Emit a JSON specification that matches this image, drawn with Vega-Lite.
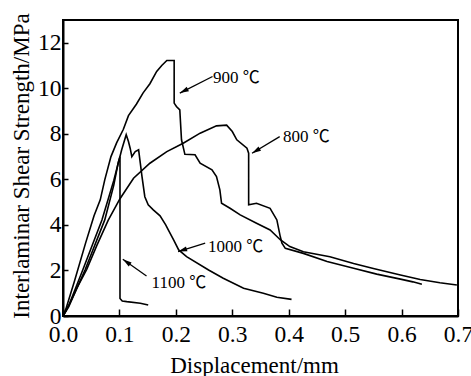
{
  "$schema": "https://vega.github.io/schema/vega-lite/v6.json",
  "width": 395,
  "height": 296,
  "autosize": {"type": "none"},
  "padding": {"left": 63, "top": 20, "right": 13, "bottom": 60},
  "background": "white",
  "config": {
    "view": {"stroke": "black", "strokeWidth": 2},
    "font": "Liberation Serif"
  },
  "datasets": {
    "curves": [
      {"series": "900", "i": 1, "x": 0, "y": 0},
      {"series": "900", "i": 2, "x": 0.005, "y": 0.3},
      {"series": "900", "i": 3, "x": 0.02, "y": 1.5},
      {"series": "900", "i": 4, "x": 0.04, "y": 3.2},
      {"series": "900", "i": 5, "x": 0.055, "y": 4.4},
      {"series": "900", "i": 6, "x": 0.066, "y": 5.1},
      {"series": "900", "i": 7, "x": 0.074, "y": 5.98},
      {"series": "900", "i": 8, "x": 0.085, "y": 7.0},
      {"series": "900", "i": 9, "x": 0.095, "y": 7.6},
      {"series": "900", "i": 10, "x": 0.107, "y": 8.2},
      {"series": "900", "i": 11, "x": 0.116, "y": 8.8},
      {"series": "900", "i": 12, "x": 0.13, "y": 9.3},
      {"series": "900", "i": 13, "x": 0.142, "y": 9.8},
      {"series": "900", "i": 14, "x": 0.154, "y": 10.2},
      {"series": "900", "i": 15, "x": 0.166, "y": 10.74},
      {"series": "900", "i": 16, "x": 0.175, "y": 11.0},
      {"series": "900", "i": 17, "x": 0.184, "y": 11.22},
      {"series": "900", "i": 18, "x": 0.197, "y": 11.22},
      {"series": "900", "i": 19, "x": 0.197, "y": 9.35},
      {"series": "900", "i": 20, "x": 0.201, "y": 9.2},
      {"series": "900", "i": 21, "x": 0.207, "y": 9.05},
      {"series": "900", "i": 22, "x": 0.21, "y": 7.74},
      {"series": "900", "i": 23, "x": 0.216, "y": 7.1},
      {"series": "900", "i": 24, "x": 0.234, "y": 7.08},
      {"series": "900", "i": 25, "x": 0.243, "y": 6.71},
      {"series": "900", "i": 26, "x": 0.264, "y": 6.42},
      {"series": "900", "i": 27, "x": 0.272, "y": 6.12},
      {"series": "900", "i": 28, "x": 0.278, "y": 5.54},
      {"series": "900", "i": 29, "x": 0.281, "y": 4.95},
      {"series": "900", "i": 30, "x": 0.296, "y": 4.73},
      {"series": "900", "i": 31, "x": 0.314, "y": 4.44},
      {"series": "900", "i": 32, "x": 0.343, "y": 4.07},
      {"series": "900", "i": 33, "x": 0.367, "y": 3.78},
      {"series": "900", "i": 34, "x": 0.385, "y": 3.35},
      {"series": "900", "i": 35, "x": 0.402, "y": 3.05},
      {"series": "900", "i": 36, "x": 0.426, "y": 2.82},
      {"series": "900", "i": 37, "x": 0.473, "y": 2.6},
      {"series": "900", "i": 38, "x": 0.515, "y": 2.31},
      {"series": "900", "i": 39, "x": 0.55, "y": 2.09},
      {"series": "900", "i": 40, "x": 0.598, "y": 1.8},
      {"series": "900", "i": 41, "x": 0.633, "y": 1.6},
      {"series": "900", "i": 42, "x": 0.668, "y": 1.46},
      {"series": "900", "i": 43, "x": 0.698, "y": 1.36},
      {"series": "800", "i": 1, "x": 0, "y": 0},
      {"series": "800", "i": 2, "x": 0.01, "y": 0.45},
      {"series": "800", "i": 3, "x": 0.025, "y": 1.25},
      {"series": "800", "i": 4, "x": 0.042, "y": 2.05},
      {"series": "800", "i": 5, "x": 0.06, "y": 3.1},
      {"series": "800", "i": 6, "x": 0.08, "y": 4.2},
      {"series": "800", "i": 7, "x": 0.101, "y": 5.15},
      {"series": "800", "i": 8, "x": 0.125, "y": 6.05},
      {"series": "800", "i": 9, "x": 0.154, "y": 6.71},
      {"series": "800", "i": 10, "x": 0.184, "y": 7.22},
      {"series": "800", "i": 11, "x": 0.213, "y": 7.59},
      {"series": "800", "i": 12, "x": 0.243, "y": 8.03},
      {"series": "800", "i": 13, "x": 0.272, "y": 8.35},
      {"series": "800", "i": 14, "x": 0.29, "y": 8.38},
      {"series": "800", "i": 15, "x": 0.3, "y": 8.1},
      {"series": "800", "i": 16, "x": 0.308, "y": 7.74},
      {"series": "800", "i": 17, "x": 0.326, "y": 7.37},
      {"series": "800", "i": 18, "x": 0.329, "y": 7.15},
      {"series": "800", "i": 19, "x": 0.329, "y": 4.88},
      {"series": "800", "i": 20, "x": 0.343, "y": 4.95},
      {"series": "800", "i": 21, "x": 0.367, "y": 4.73},
      {"series": "800", "i": 22, "x": 0.379, "y": 4.22},
      {"series": "800", "i": 23, "x": 0.385, "y": 3.49},
      {"series": "800", "i": 24, "x": 0.388, "y": 3.2},
      {"series": "800", "i": 25, "x": 0.394, "y": 2.97},
      {"series": "800", "i": 26, "x": 0.426, "y": 2.75},
      {"series": "800", "i": 27, "x": 0.468, "y": 2.39},
      {"series": "800", "i": 28, "x": 0.515, "y": 2.1},
      {"series": "800", "i": 29, "x": 0.556, "y": 1.84},
      {"series": "800", "i": 30, "x": 0.598, "y": 1.62},
      {"series": "800", "i": 31, "x": 0.62, "y": 1.5},
      {"series": "800", "i": 32, "x": 0.636, "y": 1.39},
      {"series": "1000", "i": 1, "x": 0, "y": 0},
      {"series": "1000", "i": 2, "x": 0.01, "y": 0.45},
      {"series": "1000", "i": 3, "x": 0.035, "y": 2.02},
      {"series": "1000", "i": 4, "x": 0.069, "y": 4.22},
      {"series": "1000", "i": 5, "x": 0.09, "y": 5.95},
      {"series": "1000", "i": 6, "x": 0.104, "y": 7.3},
      {"series": "1000", "i": 7, "x": 0.112, "y": 7.96},
      {"series": "1000", "i": 8, "x": 0.116, "y": 7.66},
      {"series": "1000", "i": 9, "x": 0.119, "y": 7.37},
      {"series": "1000", "i": 10, "x": 0.122, "y": 7.0},
      {"series": "1000", "i": 11, "x": 0.128, "y": 7.22},
      {"series": "1000", "i": 12, "x": 0.134, "y": 7.3},
      {"series": "1000", "i": 13, "x": 0.137, "y": 6.71},
      {"series": "1000", "i": 14, "x": 0.14, "y": 6.12},
      {"series": "1000", "i": 15, "x": 0.145, "y": 5.24},
      {"series": "1000", "i": 16, "x": 0.151, "y": 4.88},
      {"series": "1000", "i": 17, "x": 0.16, "y": 4.66},
      {"series": "1000", "i": 18, "x": 0.172, "y": 4.4},
      {"series": "1000", "i": 19, "x": 0.182, "y": 4.0},
      {"series": "1000", "i": 20, "x": 0.188, "y": 3.72},
      {"series": "1000", "i": 21, "x": 0.196, "y": 3.34},
      {"series": "1000", "i": 22, "x": 0.205, "y": 2.9},
      {"series": "1000", "i": 23, "x": 0.219, "y": 2.61},
      {"series": "1000", "i": 24, "x": 0.258, "y": 2.02},
      {"series": "1000", "i": 25, "x": 0.284, "y": 1.66},
      {"series": "1000", "i": 26, "x": 0.32, "y": 1.22},
      {"series": "1000", "i": 27, "x": 0.355, "y": 1.0},
      {"series": "1000", "i": 28, "x": 0.379, "y": 0.82},
      {"series": "1000", "i": 29, "x": 0.405, "y": 0.73},
      {"series": "1100", "i": 1, "x": 0, "y": 0},
      {"series": "1100", "i": 2, "x": 0.01, "y": 0.4},
      {"series": "1100", "i": 3, "x": 0.039, "y": 2.02},
      {"series": "1100", "i": 4, "x": 0.074, "y": 4.22},
      {"series": "1100", "i": 5, "x": 0.09, "y": 5.75},
      {"series": "1100", "i": 6, "x": 0.098, "y": 6.75},
      {"series": "1100", "i": 7, "x": 0.101, "y": 7.0},
      {"series": "1100", "i": 8, "x": 0.101, "y": 0.77},
      {"series": "1100", "i": 9, "x": 0.105, "y": 0.66},
      {"series": "1100", "i": 10, "x": 0.113, "y": 0.63},
      {"series": "1100", "i": 11, "x": 0.137, "y": 0.56},
      {"series": "1100", "i": 12, "x": 0.151, "y": 0.48}
    ],
    "notes": [
      {"label": "900 ℃", "lx": 0.266, "ly": 10.24, "tx": 0.265, "ty": 10.52, "hx": 0.207, "hy": 9.79},
      {"label": "800 ℃", "lx": 0.39, "ly": 7.65, "tx": 0.384, "ty": 7.88, "hx": 0.335, "hy": 7.15},
      {"label": "1000 ℃", "lx": 0.257, "ly": 2.81, "tx": 0.252, "ty": 3.2, "hx": 0.204, "hy": 2.83},
      {"label": "1100 ℃", "lx": 0.157, "ly": 1.23, "tx": 0.148, "ty": 1.76, "hx": 0.106, "hy": 2.49}
    ]
  },
  "layer": [
    {
      "data": {"name": "curves"},
      "mark": {"type": "line", "color": "black", "strokeWidth": 1.6, "strokeJoin": "miter"},
      "encoding": {
        "x": {
          "field": "x", "type": "quantitative",
          "scale": {"domain": [0, 0.7], "nice": false, "zero": false},
          "axis": {
            "values": [0, 0.1, 0.2, 0.3, 0.4, 0.5, 0.6, 0.7],
            "format": ".1f",
            "grid": false,
            "tickSize": -7, "tickWidth": 1.5, "tickColor": "black",
            "domainColor": "black", "domainWidth": 2,
            "labelFont": "Liberation Serif", "labelFontSize": 23.5, "labelColor": "black",
            "labelPadding": 13, "labelFlush": false, "labelOverlap": false,
            "title": "Displacement/mm",
            "titleFont": "Liberation Serif", "titleFontSize": 23, "titleFontWeight": "normal", "titleColor": "black",
            "titleX": 191, "titleY": 56, "titleBaseline": "alphabetic", "titleAlign": "center"
          }
        },
        "y": {
          "field": "y", "type": "quantitative",
          "scale": {"domain": [0, 13], "nice": false, "zero": false},
          "axis": {
            "values": [0, 1, 2, 3, 4, 5, 6, 7, 8, 9, 10, 11, 12],
            "labelExpr": "datum.value % 2 == 0 ? datum.label : ''",
            "grid": false,
            "tickSize": -5, "tickWidth": 1.5, "tickColor": "black",
            "domainColor": "black", "domainWidth": 2,
            "labelFont": "Liberation Serif", "labelFontSize": 23.5, "labelColor": "black",
            "labelPadding": 7, "labelFlush": false, "labelOverlap": false,
            "title": "Interlaminar Shear Strength/MPa",
            "titleFont": "Liberation Serif", "titleFontSize": 23, "titleFontWeight": "normal", "titleColor": "black",
            "titleX": -35, "titleY": 145.5, "titleBaseline": "alphabetic", "titleAlign": "center", "titleAngle": -90
          }
        },
        "detail": {"field": "series"},
        "order": {"field": "i", "type": "quantitative"}
      }
    },
    {
      "data": {"name": "notes"},
      "mark": {"type": "rule", "color": "black", "strokeWidth": 1.3},
      "encoding": {
        "x": {"field": "tx", "type": "quantitative"},
        "y": {"field": "ty", "type": "quantitative"},
        "x2": {"field": "hx"},
        "y2": {"field": "hy"}
      }
    },
    {
      "data": {"name": "notes"},
      "transform": [
        {"calculate": "atan2((datum.hx - datum.tx) * 564, (datum.hy - datum.ty) * 22.75) * 180 / PI", "as": "ang"}
      ],
      "mark": {"type": "point", "shape": "M0,0L0.55,2L-0.55,2Z", "filled": true, "color": "black", "opacity": 1, "size": 81, "strokeWidth": 0},
      "encoding": {
        "x": {"field": "hx", "type": "quantitative"},
        "y": {"field": "hy", "type": "quantitative"},
        "angle": {"field": "ang", "type": "quantitative", "scale": null}
      }
    },
    {
      "data": {"name": "notes"},
      "mark": {"type": "text", "align": "left", "baseline": "alphabetic", "font": "Liberation Serif, Noto Sans CJK SC", "fontSize": 17, "color": "black"},
      "encoding": {
        "x": {"field": "lx", "type": "quantitative"},
        "y": {"field": "ly", "type": "quantitative"},
        "text": {"field": "label"}
      }
    }
  ]
}
